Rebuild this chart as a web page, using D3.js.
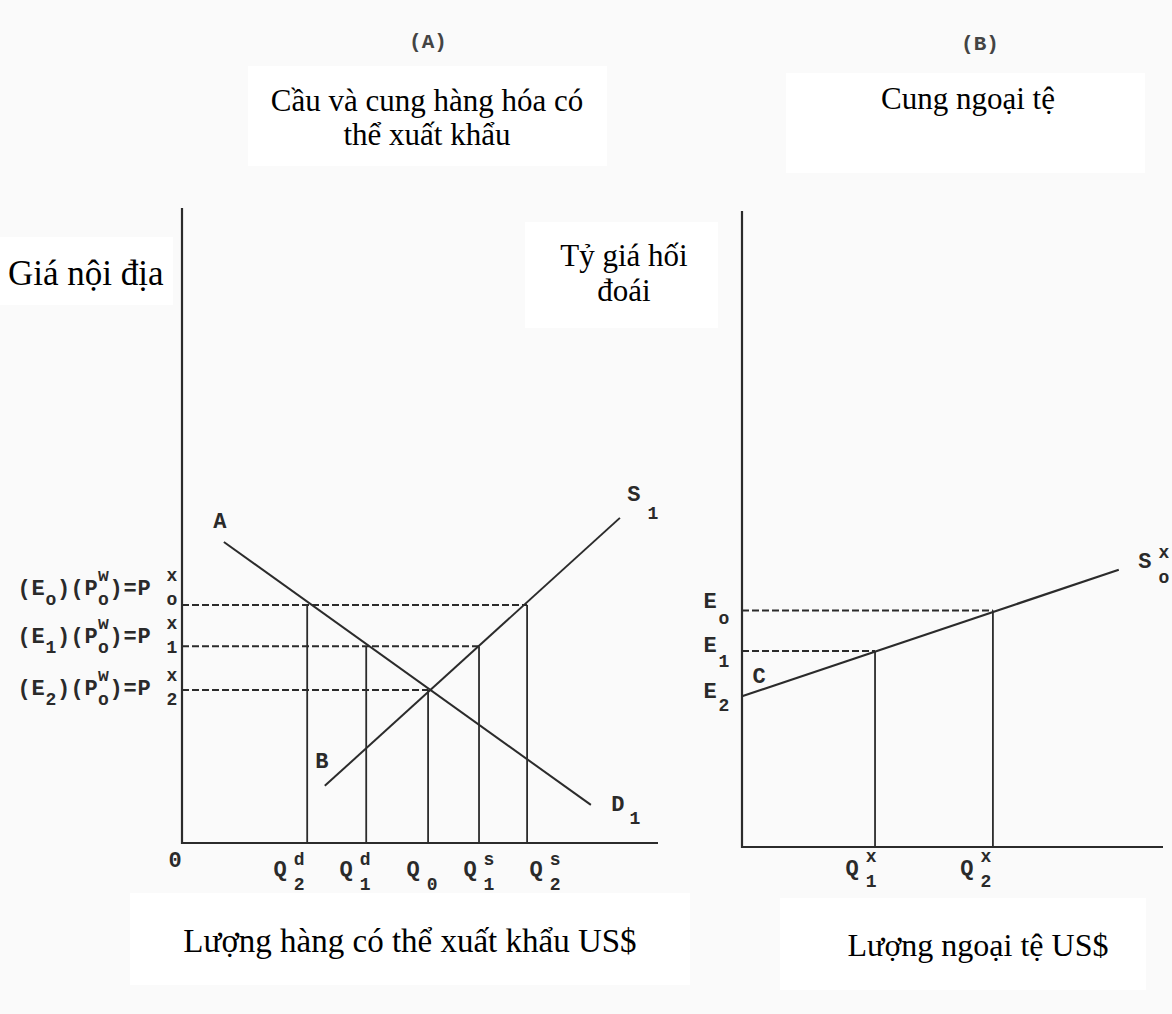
<!DOCTYPE html>
<html><head><meta charset="utf-8">
<script src="https://cdn.jsdelivr.net/npm/d3@7"></script>
<style>
html,body{margin:0;padding:0;background:#fafafa;}
svg{display:block}
.serif{font-family:"Liberation Serif","Times New Roman",serif;fill:#000;}
.mono{font-family:"Liberation Mono","Courier New",monospace;font-weight:bold;fill:#2a2a2a;}
</style></head><body>
<svg id="c" width="1172" height="1014"></svg>
<script>
// ---------- Panel A: demand & supply of exportables ----------
const quantityLabelsA = [
  {main:"Q", sup:"d", sub:"2"},
  {main:"Q", sup:"d", sub:"1"},
  {main:"Q", sup:null, sub:"0"},
  {main:"Q", sup:"s", sub:"1"},
  {main:"Q", sup:"s", sub:"2"}
];
const quantitiesA = [26.3, 38.7, 51.7, 62.4, 72.5];      // Q2d, Q1d, Q0, Q1s, Q2s
const quantityPriceA = [37.5, 31.0, 24.1, 31.0, 37.5];   // price level each vertical rises to
const pricesA = [37.5, 31.0, 24.1];                      // P0x, P1x, P2x
const priceEndA = [72.5, 62.4, 51.7];                    // dashed line ends at Q2s, Q1s, Q0
const priceSubsE = ["o", "1", "2"];
const priceSubsP = ["o", "1", "2"];
const demandD1 = [[8.8, 47.4], [85.9, 6.0]];
const supplyS1 = [[30.0, 9.0], [92.0, 51.2]];

// ---------- Panel B: supply of foreign exchange ----------
const exchangeRates = [37.2, 30.8, 23.7];   // E0, E1, E2
const rateSubs = ["o", "1", "2"];
const quantitiesB = [31.6, 59.6];           // Q1x, Q2x
const quantityRateB = [30.8, 37.2];
const quantityLabelsB = [
  {main:"Q", sup:"x", sub:"1"},
  {main:"Q", sup:"x", sub:"2"}
];
const supplySx = [[0, 23.7], [89.5, 43.6]];

const svg = d3.select("#c");
const ink = "#2b2b2b";

// scales
const xA = d3.scaleLinear().domain([0, 100]).range([182, 658]);
const yA = d3.scaleLinear().domain([0, 100]).range([843, 208]);
const xB = d3.scaleLinear().domain([0, 100]).range([742, 1163]);
const yB = d3.scaleLinear().domain([0, 100]).range([847, 211]);

// ---------- white text boxes ----------
const boxes = [
  [248, 66, 359, 100], [786, 73, 359, 100],
  [0, 237, 173, 68], [525, 222, 193, 106],
  [130, 893, 560, 92], [780, 898, 366, 92]
];
svg.selectAll("rect.box").data(boxes).join("rect").attr("class","box")
  .attr("x", d=>d[0]).attr("y", d=>d[1]).attr("width", d=>d[2]).attr("height", d=>d[3])
  .attr("fill", "#ffffff");

// ---------- headings ----------
svg.append("text").attr("class","mono").attr("x",428).attr("y",42)
  .attr("text-anchor","middle").attr("dominant-baseline","central")
  .style("font-size","21px").style("fill","#444").text("(A)");
svg.append("text").attr("class","mono").attr("x",980).attr("y",44)
  .attr("text-anchor","middle").attr("dominant-baseline","central")
  .style("font-size","21px").style("fill","#444").text("(B)");

function serifLines(lines, x, y0, lh, anchor, size) {
  const t = svg.append("text").attr("class","serif").attr("text-anchor", anchor)
    .style("font-size", size + "px");
  lines.forEach((s, i) => t.append("tspan").attr("x", x).attr("y", y0 + i * lh).text(s));
}
serifLines(["Cầu và cung hàng hóa có", "thể xuất khẩu"], 427, 111, 34, "middle", 31);
serifLines(["Cung ngoại tệ"], 968, 109, 34, "middle", 31);
serifLines(["Giá nội địa"], 8, 285, 34, "start", 35);
serifLines(["Tỷ giá hối", "đoái"], 624, 266, 35, "middle", 31);
serifLines(["Lượng hàng có thể xuất khẩu US$"], 410, 952, 34, "middle", 33);
serifLines(["Lượng ngoại tệ US$"], 978, 956, 34, "middle", 32);

// ---------- helpers ----------
const line = (xs, ys) => d3.line().x(d => xs(d[0])).y(d => ys(d[1]));
const MAIN = 22, SMALL = 18;
// one text element built from positioned glyph pieces: [text, x, y, small?]
function label(parts) {
  const t = svg.append("text").attr("class","mono")
    .attr("text-anchor","middle").attr("dominant-baseline","central")
    .style("font-size", MAIN + "px");
  parts.forEach(p => {
    const s = t.append("tspan").attr("x", p[1]).attr("y", p[2]).text(p[0]);
    if (p[3]) s.style("font-size", SMALL + "px");
  });
  return t;
}

// ---------- Panel A ----------
const gA = svg.append("g").attr("stroke", ink).attr("fill","none");
gA.append("path").attr("d", line(xA, yA)([[0,100],[0,0],[100,0]])).attr("stroke-width", 2.2);
pricesA.forEach((p, i) => {
  gA.append("path").attr("d", line(xA, yA)([[0,p],[priceEndA[i],p]]))
    .attr("stroke-width", 2).attr("stroke-dasharray", "7,3");
});
quantitiesA.forEach((q, i) => {
  gA.append("path").attr("d", line(xA, yA)([[q,quantityPriceA[i]],[q,0]])).attr("stroke-width", 1.8);
});
gA.append("path").attr("d", line(xA, yA)(demandD1)).attr("stroke-width", 2);
gA.append("path").attr("d", line(xA, yA)(supplyS1)).attr("stroke-width", 2);

// origin
label([["0", xA(0) - 7, yA(0) + 18]]);
// quantity labels
const qDxA = [-27, -20, -15, -9, 9];
quantitiesA.forEach((q, i) => {
  const L = quantityLabelsA[i], x = xA(q) + qDxA[i], y = yA(0);
  const parts = [[L.main, x, y + 27]];
  if (L.sup) parts.push([L.sup, x + 19, y + 17, true]);
  parts.push([L.sub, x + 19, y + 42, true]);
  label(parts);
});
// price labels (E)(Pw)=Px
const rowDy = [-16, -9, -1];
pricesA.forEach((p, i) => {
  const ax = xA(0), ay = yA(p) + rowDy[i];
  const gl = [
    ["(", -158, 0], ["E", -144, 0], [priceSubsE[i], -131, 11, true], [")", -118.5, 0],
    ["(", -105, 0], ["P", -91, 0], ["w", -78.5, -13, true], ["o", -78.5, 11, true], [")", -66, 0],
    ["=", -52, 0], ["P", -38, 0], ["x", -10, -13, true], [priceSubsP[i], -10, 11, true]
  ];
  label(gl.map(g => [g[0], ax + g[1], ay + g[2], g[3]]));
});
// curve labels
label([["A", xA(demandD1[0][0]) - 4, yA(demandD1[0][1]) - 20]]);
label([["B", xA(supplyS1[0][0]) - 3, yA(supplyS1[0][1]) - 24]]);
label([["S", xA(supplyS1[1][0]) + 14, yA(supplyS1[1][1]) - 23],
       ["1", xA(supplyS1[1][0]) + 33, yA(supplyS1[1][1]) - 4, true]]);
label([["D", xA(demandD1[1][0]) + 27, yA(demandD1[1][1])],
       ["1", xA(demandD1[1][0]) + 44, yA(demandD1[1][1]) + 14, true]]);

// ---------- Panel B ----------
const gB = svg.append("g").attr("stroke", ink).attr("fill","none");
gB.append("path").attr("d", line(xB, yB)([[0,100],[0,0],[100,0]])).attr("stroke-width", 2.2);
exchangeRates.slice(0, 2).forEach((e, i) => {
  const qEnd = i === 0 ? quantitiesB[1] : quantitiesB[0];
  gB.append("path").attr("d", line(xB, yB)([[0,e],[qEnd,e]]))
    .attr("stroke-width", 2).attr("stroke-dasharray", "7,3");
});
quantitiesB.forEach((q, i) => {
  gB.append("path").attr("d", line(xB, yB)([[q,quantityRateB[i]],[q,0]])).attr("stroke-width", 1.8);
});
gB.append("path").attr("d", line(xB, yB)(supplySx)).attr("stroke-width", 2.2);

const eDy = [[-8, 9], [-5, 11], [-4, 10]];
exchangeRates.forEach((e, i) => {
  label([["E", xB(0) - 32, yB(e) + eDy[i][0]], [rateSubs[i], xB(0) - 18, yB(e) + eDy[i][1], true]]);
});
const qDxB = [-23, -26];
quantitiesB.forEach((q, i) => {
  const L = quantityLabelsB[i], x = xB(q) + qDxB[i], y = yB(0);
  label([[L.main, x, y + 22], [L.sup, x + 19, y + 10, true], [L.sub, x + 19, y + 35, true]]);
});
label([["C", xB(supplySx[0][0]) + 17, yB(supplySx[0][1]) - 19]]);
label([["S", xB(supplySx[1][0]) + 26, yB(supplySx[1][1]) - 8],
       ["x", xB(supplySx[1][0]) + 45, yB(supplySx[1][1]) - 17, true],
       ["o", xB(supplySx[1][0]) + 45, yB(supplySx[1][1]) + 8, true]]);
</script>
</body></html>
